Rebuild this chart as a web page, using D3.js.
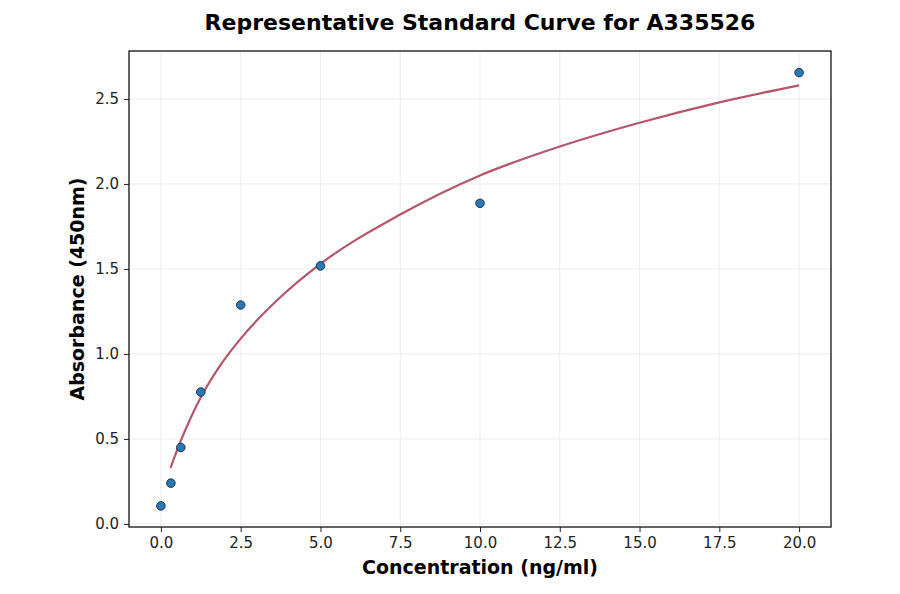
<!DOCTYPE html>
<html>
<head>
<meta charset="utf-8">
<script src="https://cdn.jsdelivr.net/npm/d3@7"></script>
<style>
  body { margin: 0; background: #fff; }
  svg { font-family: "DejaVu Sans", sans-serif; }
  .grid line { stroke: #e8e8e8; stroke-width: 0.8; }
</style>
</head>
<body>
<div id="chart"></div>
<script>
// measured standards
let concs=[0, 0.3125, 0.625, 1.25, 2.5, 5, 10, 20];
let absorb=[0.106, 0.24, 0.45, 0.776, 1.288, 1.518, 1.886, 2.655];

// fitted curve
let fitX=[0.3, 0.625, 0.9, 1.25, 1.85, 2.5, 3.75, 5, 7.5, 10, 12.5, 15, 17.5, 20];
let fitY=[0.33, 0.49, 0.61, 0.745, 0.93, 1.09, 1.335, 1.53, 1.82, 2.05, 2.22, 2.36, 2.48, 2.58];

let xTicks=[0, 2.5, 5, 7.5, 10, 12.5, 15, 17.5, 20];
let yTicks=[0, 0.5, 1.0, 1.5, 2.0, 2.5];

let width=900, height=594;
let margin={top:51, right:69, bottom:67, left:129};
let w=width-margin.left-margin.right;
let h=height-margin.top-margin.bottom;

let svg=d3.select('#chart').append('svg')
  .attr('width',width)
  .attr('height',height);

let g=svg.append('g').attr('transform','translate('+margin.left+','+margin.top+')');

let x=d3.scaleLinear().domain([-1.0, 21.0]).range([0,w]);
let y=d3.scaleLinear().domain([-0.018, 2.782]).range([h,0]);

// grid
g.append('g').attr('class','grid')
  .selectAll('line').data(xTicks).join('line')
  .attr('x1',d=>x(d)).attr('x2',d=>x(d)).attr('y1',0).attr('y2',h);
g.append('g').attr('class','grid')
  .selectAll('line').data(yTicks).join('line')
  .attr('y1',d=>y(d)).attr('y2',d=>y(d)).attr('x1',0).attr('x2',w);

// axes
let xAxis=g.append('g').attr('transform','translate(0,'+h+')')
  .call(d3.axisBottom(x).tickValues(xTicks).tickFormat(d3.format('.1f')).tickSizeOuter(0).tickSize(5).tickPadding(5));
let yAxis=g.append('g')
  .call(d3.axisLeft(y).tickValues(yTicks).tickFormat(d3.format('.1f')).tickSizeOuter(0).tickSize(5).tickPadding(5));
[xAxis,yAxis].forEach(a=>{
  a.select('.domain').remove();
  a.selectAll('.tick line').attr('stroke','#222').attr('stroke-width',1);
  a.attr('font-family','DejaVu Sans, sans-serif').attr('font-size',15);
  a.selectAll('.tick text').attr('fill','#222');
});

// frame
g.append('rect').attr('x',0).attr('y',0).attr('width',w).attr('height',h)
  .attr('fill','none').attr('stroke','#111').attr('stroke-width',1.3);

// curve
let line=d3.line().x((d,i)=>x(fitX[i])).y(d=>y(d)).curve(d3.curveMonotoneX);
g.append('path').datum(fitY)
  .attr('d',line)
  .attr('fill','none')
  .attr('stroke','#b5556a')
  .attr('stroke-width',2.2);

// points
g.selectAll('circle.pt').data(absorb).join('circle')
  .attr('class','pt')
  .attr('cx',(d,i)=>x(concs[i]))
  .attr('cy',d=>y(d))
  .attr('r',4.3)
  .attr('fill','#2878b5')
  .attr('stroke','#1a2a3a')
  .attr('stroke-width',0.9);

// labels
svg.append('text').attr('x',margin.left+w/2).attr('y',30)
  .attr('text-anchor','middle').attr('font-weight','bold').attr('font-size','22px')
  .text('Representative Standard Curve for A335526');
svg.append('text').attr('x',margin.left+w/2).attr('y',574)
  .attr('text-anchor','middle').attr('font-weight','bold').attr('font-size','19px')
  .text('Concentration (ng/ml)');
svg.append('text')
  .attr('transform','translate(84,'+(margin.top+h/2)+') rotate(-90)')
  .attr('text-anchor','middle').attr('font-weight','bold').attr('font-size','19px')
  .text('Absorbance (450nm)');
</script>
</body>
</html>
